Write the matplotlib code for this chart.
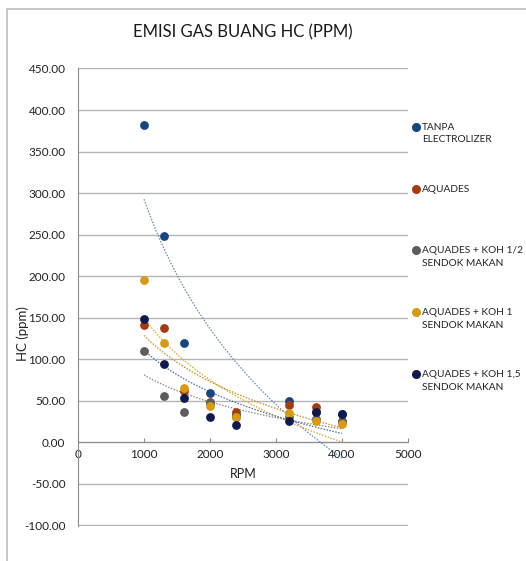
import numpy as np
import matplotlib
matplotlib.use("Agg")
import matplotlib.pyplot as plt
from matplotlib.patches import Rectangle

plt.rcParams['font.family'] = ['Lato', 'DejaVu Sans']

rpm = [1000, 1300, 1600, 2000, 2400, 3200, 3600, 4000]

tanpa = [382, 248, 119, 59, 33, 50, 36, 34]
aquades = [141, 138, 62, 48, 36, 45, 42, 25]
koh_setengah = [110, 56, 36, 47, 30, 30, 28, 24]
koh_1 = [195, 120, 65, 44, 30, 35, 25, 22]
koh_15 = [148, 94, 53, 30, 21, 26, 36, 34]

labels = ["TANPA\nELECTROLIZER", "AQUADES", "AQUADES + KOH 1/2\nSENDOK MAKAN",
          "AQUADES + KOH 1\nSENDOK MAKAN", "AQUADES + KOH 1,5\nSENDOK MAKAN"]
series = [tanpa, aquades, koh_setengah, koh_1, koh_15]
colors = ["#17457d", "#a23c14", "#5c5c5c", "#d69b16", "#0d1a4a"]
trend_colors = ["#6a88ad", "#c98a2a", "#8a8a8a", "#d6a52e", "#4f6d9a"]

fig = plt.figure(figsize=(5.26, 5.61), dpi=100)
fig.patches.append(Rectangle((7 / 526, -0.01), 1.1, 1 - 9 / 561 + 0.01, transform=fig.transFigure,
                             fill=False, edgecolor="#bdbdbd", linewidth=1.2))

ax = fig.add_axes([78 / 526, 35.3 / 561, 330 / 526, 457.7 / 561])

xs = np.array(rpm, dtype=float)
xx = np.linspace(1000, 4000, 200)
for ys, c, tc in zip(series, colors, trend_colors):
    # logarithmic trend line, as in the spreadsheet chart
    b, a = np.polyfit(np.log(xs), np.array(ys, dtype=float), 1)
    ax.plot(xx, a + b * np.log(xx), linestyle=(0, (1.2, 1.2)), color=tc, linewidth=0.9, zorder=2)
for ys, c in zip(series, colors):
    ax.scatter(rpm, ys, s=40, color=c, zorder=3, linewidths=0)

ax.set_xlim(0, 5000)
ax.set_ylim(-100.6, 450.6)
ax.set_xticks(range(0, 5001, 1000))
ax.set_yticks(range(-100, 451, 50))
ax.yaxis.set_major_formatter(matplotlib.ticker.FormatStrFormatter('%.2f'))
ax.grid(axis='y', color="#b5b5b5", linewidth=1.0)
ax.set_axisbelow(True)
for s in ['top', 'right']:
    ax.spines[s].set_visible(False)
ax.spines['left'].set_color("#8c8c8c")
ax.spines['bottom'].set_position(('data', 0))
ax.spines['bottom'].set_color("#8c8c8c")
ax.tick_params(axis='both', labelsize=8.5, colors="#8c8c8c", labelcolor="#222222", length=3)
ax.tick_params(axis='x', direction='in', pad=5)
ax.tick_params(axis='y', length=0, pad=9)

ax.set_title("EMISI GAS BUANG HC (PPM)", fontsize=12, color="#1a1a1a", pad=22)
ax.set_xlabel("RPM", fontsize=9, color="#222222", labelpad=6)
ax.set_ylabel("HC (ppm)", fontsize=9.5, color="#222222")
ax.yaxis.set_label_coords(-0.147, 0.42)

# legend drawn at the right of the plot area
leg_y = [127, 189, 250, 312, 374]
for lab, c, y in zip(labels, colors, leg_y):
    fy = 1 - y / 561
    fig.lines.append(plt.Line2D([416 / 526], [fy], marker='o', markersize=5.5, color=c,
                                transform=fig.transFigure, linestyle='none'))
    fig.text(422 / 526, fy + 4 / 561, lab, fontsize=7.3, color="#222222", va='top', ha='left',
             linespacing=1.5, transform=fig.transFigure)

fig.savefig("out.png", dpi=100)
